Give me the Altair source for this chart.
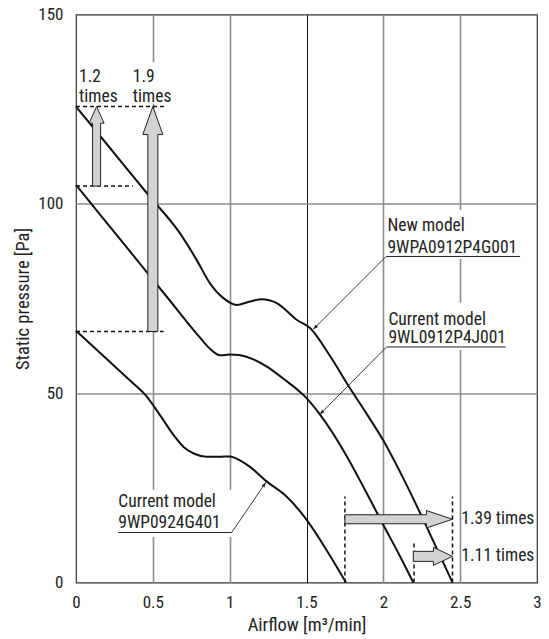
import math
import altair as alt
import pandas as pd

# ---------------- data ----------------
new_x = [0, 0.2, 0.47, 0.677, 0.785, 0.872, 0.959, 1.046, 1.133, 1.209, 1.306, 1.436, 1.523, 1.65, 1.78, 1.9, 2.0, 2.13, 2.26, 2.37, 2.45]
new_y = [125.7, 115.8, 102.4, 92.2, 85.2, 79.0, 75.1, 73.3, 74.2, 74.8, 73.8, 69.4, 67.2, 60.0, 51.5, 44.0, 37.5, 27.5, 16.6, 7.0, 0]

wl_x = [0, 0.3, 0.6, 0.8, 0.87, 0.94, 1.0, 1.06, 1.15, 1.25, 1.35, 1.45, 1.5, 1.587, 1.76, 1.88, 2.0, 2.1, 2.195]
wl_y = [105.0, 90.0, 75.0, 65.0, 61.8, 60.0, 60.2, 60.1, 59.0, 56.8, 53.8, 50.6, 48.7, 44.4, 33.5, 24.5, 15.2, 7.6, 0]

wp_x = [0, 0.2, 0.35, 0.45, 0.55, 0.63, 0.7, 0.77, 0.85, 0.93, 1.0, 1.07, 1.13, 1.24, 1.37, 1.5, 1.63, 1.757]
wp_y = [66.5, 59.0, 53.4, 49.6, 44.0, 39.2, 35.8, 34.0, 33.2, 33.2, 33.3, 32.2, 30.6, 26.7, 22.7, 16.6, 8.6, 0]

x_ticks = [0, 0.5, 1, 1.5, 2, 2.5, 3]
y_ticks = [0, 50, 100, 150]

# ratio arrows
up_line1 = ["1.2", "1.9"]
up_line2 = ["times", "times"]
up_x = [0.134, 0.5]
up_from = [104.7, 66.3]
up_to = [125.7, 125.7]
up_text_x = [0.02, 0.37]
up_text_y1 = [132.3, 132.3]
up_text_y2 = [127.0, 127.0]

right_labels = ["1.39 times", "1.11 times"]
right_y = [16.7, 6.9]
right_from = [1.75, 2.195]
right_to = [2.45, 2.45]
right_text_x = [2.507, 2.507]

dash_h_y = [125.7, 104.7, 66.3]
dash_h_x2 = [0.59, 0.37, 0.57]
dash_v_x = [1.75, 2.45, 2.2]
dash_v_y2 = [22.7, 22.7, 10.8]

# model labels
model_line1 = ["New model", "Current model", "Current model"]
model_line2 = ["9WPA0912P4G001", "9WL0912P4J001", "9WP0924G401"]
label_x = [2.027, 2.033, 0.275]
label_y1 = [92.7, 68.0, 19.9]
label_y2 = [87.0, 63.2, 14.4]
underline_x = [2.018, 2.021, 0.275]
underline_x2 = [2.89, 2.797, 1.013]
underline_y = [86.1, 62.2, 13.2]
leader_from_x = [2.018, 2.021, 1.013]
leader_tip_x = [1.545, 1.587, 1.235]
leader_tip_y = [66.9, 44.4, 26.4]

# white backgrounds behind labels (interrupt grid lines)
box_x = [0.01, 2.01, 2.01, 0.26]
box_x2 = [0.64, 2.9, 2.9, 1.015]
box_y = [126.4, 85.4, 61.4, 12.0]
box_y2 = [137.4, 98.4, 73.9, 24.5]

# ---------------- layout / style ----------------
W, H = 461, 568
PXX = W / 3.0
PXY = H / 150.0
FONT = "Liberation Sans Narrow, Roboto Condensed, Roboto, sans-serif"
FS = 17.5
AFS = 17
TFS = 18.5
ARROW_FILL = "#d3d3d3"
up_style = [(4, 7.5, 16.7), (5, 10, 28)]       # shaft half, head half, head length (px)
right_style = [(4.5, 8.7, 26), (5, 9, 19)]

xs = alt.Scale(domain=[0, 3], nice=False, zero=False)
ys = alt.Scale(domain=[0, 150], nice=False, zero=False)

edge = "datum.value === 0 || datum.value === 3 || datum.value === 150"

x_axis = alt.Axis(values=x_ticks, format="~g", ticks=False, domain=False, labelFlush=False,
                  labelPadding=12, labelFontSize=AFS, labelFont=FONT, labelColor="#222",
                  title="Airflow [m³/min]", titleFont=FONT, titleFontSize=TFS, titleFontWeight="normal",
                  titleColor="#222", titleY=48, titleBaseline="alphabetic",
                  grid=True,
                  gridColor={"condition": {"test": "datum.value === 1.5", "value": "#111"}, "value": "#8c8c8c"},
                  gridWidth={"condition": {"test": "datum.value === 1.5", "value": 1}, "value": 1.6},
                  gridOpacity={"condition": {"test": edge, "value": 0}, "value": 1})
y_axis = alt.Axis(values=y_ticks, ticks=False, domain=False, labelFlush=False,
                  labelPadding=13, labelFontSize=AFS, labelFont=FONT, labelColor="#222",
                  title="Static pressure [Pa]", titleFont=FONT, titleFontSize=TFS, titleFontWeight="normal",
                  titleColor="#222", titleX=-54, titleBaseline="middle", titleAngle=270,
                  grid=True, gridColor="#8c8c8c", gridWidth=1.6,
                  gridOpacity={"condition": {"test": edge, "value": 0}, "value": 1})

# ---------------- tables ----------------
rows = []
for name, xv, yv in [("new", new_x, new_y), ("wl", wl_x, wl_y), ("wp", wp_x, wp_y)]:
    for a, b in zip(xv, yv):
        rows.append({"series": name, "x": a, "y": b})
curves = pd.DataFrame(rows)

boxes = pd.DataFrame({"x": box_x, "x2": box_x2, "y": box_y, "y2": box_y2})

dash_h = pd.DataFrame({"y": dash_h_y, "x": [0] * 3, "x2": dash_h_x2})
dash_v = pd.DataFrame({"x": dash_v_x, "y": [0] * 3, "y2": dash_v_y2})

# block arrows as closed polygons
poly = []
for k, (cx, y0, y1) in enumerate(zip(up_x, up_from, up_to)):
    sw, hw, hl = up_style[k]
    hb = y1 - hl / PXY
    a, b = sw / PXX, hw / PXX
    pts = [(cx - a, y0), (cx - a, hb), (cx - b, hb), (cx, y1), (cx + b, hb), (cx + a, hb), (cx + a, y0), (cx - a, y0)]
    for i, (px, py) in enumerate(pts):
        poly.append({"id": "u%d" % k, "i": i, "x": px, "y": py})
for k, (cy, x0, x1) in enumerate(zip(right_y, right_from, right_to)):
    sw, hw, hl = right_style[k]
    hb = x1 - hl / PXX
    a, b = sw / PXY, hw / PXY
    pts = [(x0, cy - a), (hb, cy - a), (hb, cy - b), (x1, cy), (hb, cy + b), (hb, cy + a), (x0, cy + a), (x0, cy - a)]
    for i, (px, py) in enumerate(pts):
        poly.append({"id": "r%d" % k, "i": i, "x": px, "y": py})
poly_df = pd.DataFrame(poly)

texts = []
for a, b, x, y1, y2 in zip(up_line1, up_line2, up_text_x, up_text_y1, up_text_y2):
    texts += [{"t": a, "x": x, "y": y1}, {"t": b, "x": x, "y": y2}]
for a, b, x, y1, y2 in zip(model_line1, model_line2, label_x, label_y1, label_y2):
    texts += [{"t": a, "x": x, "y": y1}, {"t": b, "x": x, "y": y2}]
text_df = pd.DataFrame(texts)
rtext_df = pd.DataFrame({"t": right_labels, "x": right_text_x, "y": right_y})

under_df = pd.DataFrame({"x": underline_x, "x2": underline_x2, "y": underline_y})
lead_rows = []
for fx, fy, tx, ty in zip(leader_from_x, underline_y, leader_tip_x, leader_tip_y):
    dx = (tx - fx) * PXX
    dy = -(ty - fy) * PXY
    ang = math.degrees(math.atan2(dx, -dy)) % 360
    lead_rows.append({"x": fx, "y": fy, "x2": tx, "y2": ty, "ang": ang})
lead_df = pd.DataFrame(lead_rows)

# ---------------- layers ----------------
white = alt.Chart(boxes).mark_rect(color="white").encode(
    x=alt.X("x:Q", scale=xs, axis=x_axis), x2="x2", y=alt.Y("y:Q", scale=ys, axis=y_axis), y2="y2")

lines = alt.Chart(curves).mark_line(color="#111", strokeWidth=2, interpolate="monotone").encode(
    x=alt.X("x:Q", scale=xs), y=alt.Y("y:Q", scale=ys), detail="series:N", order=alt.Order("x:Q"))

dh = alt.Chart(dash_h).mark_rule(color="#111", strokeWidth=1.5, strokeDash=[4, 3]).encode(
    x=alt.X("x:Q", scale=xs), x2="x2", y=alt.Y("y:Q", scale=ys))
dv = alt.Chart(dash_v).mark_rule(color="#111", strokeWidth=1.5, strokeDash=[4, 3]).encode(
    x=alt.X("x:Q", scale=xs), y=alt.Y("y:Q", scale=ys), y2="y2")

arrows = alt.Chart(poly_df).mark_line(fill=ARROW_FILL, stroke="#222", strokeWidth=1, interpolate="linear").encode(
    x=alt.X("x:Q", scale=xs), y=alt.Y("y:Q", scale=ys), order=alt.Order("i:Q"), detail="id:N")

txt = alt.Chart(text_df).mark_text(align="left", baseline="alphabetic", font=FONT, fontSize=FS, color="#222").encode(
    x=alt.X("x:Q", scale=xs), y=alt.Y("y:Q", scale=ys), text="t:N")
rtxt = alt.Chart(rtext_df).mark_text(align="left", baseline="middle", font=FONT, fontSize=FS, color="#222").encode(
    x=alt.X("x:Q", scale=xs), y=alt.Y("y:Q", scale=ys), text="t:N")

under = alt.Chart(under_df).mark_rule(color="#222", strokeWidth=1).encode(
    x=alt.X("x:Q", scale=xs), x2="x2", y=alt.Y("y:Q", scale=ys))
lead = alt.Chart(lead_df).mark_rule(color="#222", strokeWidth=0.9).encode(
    x=alt.X("x:Q", scale=xs), x2="x2", y=alt.Y("y:Q", scale=ys), y2="y2")
heads = alt.Chart(lead_df).mark_point(shape="M0,0L0.38,1L-0.38,1Z", filled=True, color="#222", size=90, opacity=1).encode(
    x=alt.X("x2:Q", scale=xs), y=alt.Y("y2:Q", scale=ys), angle=alt.Angle("ang:Q", scale=None))

chart = alt.layer(white, dh, dv, lines, arrows, under, lead, heads, txt, rtxt).properties(
    width=W, height=H,
    autosize=alt.AutoSizeParams(type="none"),
    padding={"left": 68, "top": 6.5, "right": 4, "bottom": 53},
).configure_view(stroke="#333", strokeWidth=1.2).configure_axis(labelFont=FONT, titleFont=FONT)

chart.save("out.html", embed_options={"renderer": "svg", "actions": False})
